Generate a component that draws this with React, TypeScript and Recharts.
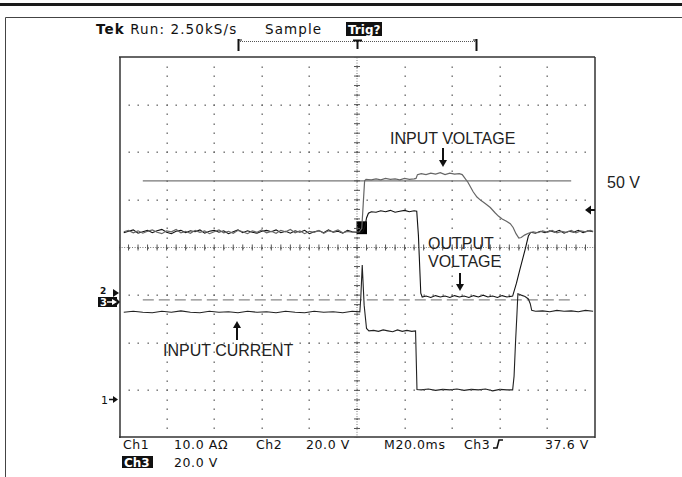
import React from 'react';
import {
  ComposedChart,
  Line,
  XAxis,
  YAxis,
  CartesianGrid,
  ReferenceLine,
  ReferenceArea,
  Scatter,
} from 'recharts';

// Horizontal axis: time in screen divisions (0-10, 20 ms/div)
// Vertical axis: screen divisions (0-8, bottom = 0)
const majorX = [0, 1, 2, 3, 4, 5, 6, 7, 8, 9, 10];
const majorY = [0, 1, 2, 3, 4, 5, 6, 7, 8];
const minorX = Array.from({ length: 51 }, (_, i) => +(i * 0.2).toFixed(1));
const minorY = Array.from({ length: 41 }, (_, i) => +(i * 0.2).toFixed(1));

// Reference lines
const ref50V: [number, number][] = [[0.5, 5.4], [9.5, 5.4]];
const refGround: [number, number][] = [[0.5, 2.9], [9.5, 2.9]];

// Ch3: INPUT VOLTAGE
const inputVoltage: [number, number][] = [
  [0.1, 4.33], [0.2, 4.36], [0.3, 4.31], [0.4, 4.35], [0.5, 4.3], [0.6, 4.34], [0.7, 4.37], [0.8, 4.32], [0.9, 4.29], [1.0, 4.35],
  [1.1, 4.33], [1.2, 4.38], [1.3, 4.31], [1.4, 4.34], [1.5, 4.3], [1.6, 4.36], [1.7, 4.32], [1.8, 4.35], [1.9, 4.29], [2.0, 4.33],
  [2.1, 4.37], [2.2, 4.31], [2.3, 4.34], [2.4, 4.3], [2.5, 4.36], [2.6, 4.33], [2.7, 4.29], [2.8, 4.35], [2.9, 4.32], [3.0, 4.37],
  [3.1, 4.31], [3.2, 4.34], [3.3, 4.3], [3.4, 4.36], [3.5, 4.33], [3.6, 4.38], [3.7, 4.31], [3.8, 4.35], [3.9, 4.29], [4.0, 4.34],
  [4.1, 4.32], [4.2, 4.36], [4.3, 4.3], [4.4, 4.35], [4.5, 4.33], [4.6, 4.37], [4.7, 4.31], [4.8, 4.34], [4.9, 4.32], [5.05, 4.33],
  [5.1, 4.4], [5.13, 4.9], [5.16, 5.4], [5.19, 5.43], [5.3, 5.42], [5.4, 5.44], [5.5, 5.42], [5.6, 5.45], [5.7, 5.43], [5.8, 5.44],
  [5.9, 5.42], [6.0, 5.45], [6.1, 5.43], [6.2, 5.44], [6.24, 5.45], [6.27, 5.53], [6.35, 5.55], [6.45, 5.53], [6.55, 5.56], [6.65, 5.54],
  [6.75, 5.57], [6.85, 5.53], [6.95, 5.56], [7.05, 5.54], [7.15, 5.55], [7.21, 5.53], [7.33, 5.37], [7.44, 5.17], [7.52, 5.06], [7.6, 4.99],
  [7.7, 4.92], [7.8, 4.84], [7.9, 4.73], [7.97, 4.66], [8.05, 4.6], [8.14, 4.55], [8.22, 4.5], [8.28, 4.42], [8.34, 4.29], [8.4, 4.2],
  [8.45, 4.21], [8.52, 4.26], [8.6, 4.3], [8.7, 4.33], [8.8, 4.31], [8.9, 4.35], [9.0, 4.32], [9.1, 4.36], [9.2, 4.31], [9.3, 4.34],
  [9.4, 4.32], [9.5, 4.36], [9.6, 4.31], [9.7, 4.35], [9.8, 4.33], [9.9, 4.36], [9.96, 4.34],
];

// Ch2: OUTPUT VOLTAGE
const outputVoltage: [number, number][] = [
  [0.1, 4.31], [0.2, 4.34], [0.3, 4.37], [0.4, 4.3], [0.5, 4.33], [0.6, 4.36], [0.7, 4.31], [0.8, 4.35], [0.9, 4.38], [1.0, 4.32],
  [1.1, 4.29], [1.2, 4.34], [1.3, 4.36], [1.4, 4.31], [1.5, 4.35], [1.6, 4.33], [1.7, 4.37], [1.8, 4.3], [1.9, 4.34], [2.0, 4.36],
  [2.1, 4.32], [2.2, 4.35], [2.3, 4.29], [2.4, 4.33], [2.5, 4.37], [2.6, 4.31], [2.7, 4.35], [2.8, 4.32], [2.9, 4.3], [3.0, 4.34],
  [3.1, 4.36], [3.2, 4.33], [3.3, 4.37], [3.4, 4.31], [3.5, 4.34], [3.6, 4.3], [3.7, 4.35], [3.8, 4.32], [3.9, 4.36], [4.0, 4.29],
  [4.1, 4.33], [4.2, 4.35], [4.3, 4.31], [4.4, 4.37], [4.5, 4.32], [4.6, 4.34], [4.7, 4.3], [4.8, 4.36], [4.9, 4.33], [5.05, 4.31],
  [5.12, 4.33], [5.17, 4.45], [5.2, 4.62], [5.24, 4.72], [5.3, 4.75], [5.4, 4.74], [5.5, 4.77], [5.6, 4.75], [5.7, 4.78], [5.8, 4.74],
  [5.9, 4.76], [6.0, 4.78], [6.1, 4.75], [6.2, 4.77], [6.255, 4.76], [6.29, 4.26], [6.34, 3.04], [6.37, 2.96], [6.45, 2.98], [6.55, 2.95],
  [6.65, 2.99], [6.75, 2.96], [6.85, 2.98], [6.95, 2.95], [7.05, 2.99], [7.15, 2.96], [7.25, 2.98], [7.35, 2.95], [7.45, 2.99], [7.55, 2.96],
  [7.65, 3.0], [7.75, 2.96], [7.85, 2.98], [7.95, 2.95], [8.05, 2.99], [8.15, 2.96], [8.27, 2.98], [8.35, 3.25], [8.42, 3.53], [8.53, 3.95],
  [8.6, 4.24], [8.65, 4.32], [8.75, 4.3], [8.85, 4.34], [8.95, 4.31], [9.05, 4.35], [9.15, 4.32], [9.25, 4.36], [9.35, 4.3], [9.45, 4.34],
  [9.55, 4.32], [9.65, 4.36], [9.75, 4.31], [9.85, 4.35], [9.96, 4.33],
];

// Ch1: INPUT CURRENT
const inputCurrent: [number, number][] = [
  [0.1, 2.64], [0.3, 2.66], [0.5, 2.64], [0.7, 2.63], [0.9, 2.66], [1.1, 2.64], [1.3, 2.67], [1.5, 2.64], [1.7, 2.63], [1.9, 2.66],
  [2.1, 2.64], [2.3, 2.65], [2.5, 2.63], [2.7, 2.66], [2.9, 2.64], [3.1, 2.65], [3.3, 2.63], [3.5, 2.66], [3.7, 2.64], [3.9, 2.63],
  [4.1, 2.66], [4.3, 2.64], [4.5, 2.65], [4.7, 2.63], [4.9, 2.66], [5.06, 2.65], [5.08, 2.95], [5.11, 3.63], [5.15, 2.79], [5.2, 2.3],
  [5.25, 2.25], [5.35, 2.26], [5.45, 2.24], [5.55, 2.27], [5.65, 2.25], [5.75, 2.23], [5.85, 2.27], [5.95, 2.24], [6.05, 2.26], [6.15, 2.24],
  [6.23, 2.25], [6.26, 1.02], [6.35, 1.01], [6.5, 1.03], [6.65, 1.0], [6.8, 1.02], [6.95, 1.01], [7.1, 1.03], [7.25, 1.0], [7.4, 1.02],
  [7.55, 1.01], [7.7, 1.03], [7.85, 0.99], [8.0, 1.02], [8.15, 1.01], [8.27, 1.01], [8.3, 1.3], [8.33, 2.0], [8.36, 2.6], [8.38, 3.03],
  [8.45, 3.0], [8.53, 2.97], [8.6, 2.92], [8.64, 2.82], [8.67, 2.68], [8.75, 2.66], [8.9, 2.67], [9.05, 2.65], [9.2, 2.68], [9.35, 2.66],
  [9.5, 2.67], [9.65, 2.65], [9.8, 2.68], [9.96, 2.66],
];

const toPts = (arr: [number, number][]) => arr.map(([t, v]) => ({ t, v }));

const centerVTicks = minorY.map((v) => ({ t: 5, v }));
const centerHTicks = minorX.map((t) => ({ t, v: 4 }));
const gridDots = majorX
  .filter((t) => t > 0 && t < 10)
  .flatMap((t) => minorY.map((v) => ({ t, v })))
  .concat(majorY.filter((v) => v > 0 && v < 8).flatMap((v) => minorX.map((t) => ({ t, v }))));

const W = 682;
const H = 477;
const BORDER = '#333';

const scopeFont = '"DejaVu Sans", sans-serif';
const noteFont = '"Liberation Sans", Arial, sans-serif';

function ArrowV({ x, from, to }: { x: number; from: number; to: number }) {
  const dir = to > from ? 1 : -1;
  const headLen = 7;
  return (
    <g>
      <line x1={x} y1={from} x2={x} y2={to - dir * headLen} stroke="#111" strokeWidth={2} />
      <polygon points={`${x - 4},${to - dir * headLen} ${x + 4},${to - dir * headLen} ${x},${to}`} fill="#111" />
    </g>
  );
}

function Overlay() {
  return (
    <svg
      width={W}
      height={H}
      style={{ position: 'absolute', left: 0, top: 0, pointerEvents: 'none' }}
    >
      {/* page frame */}
      <rect x={0} y={3} width={W} height={3} fill="#1a1a1a" />
      <line x1={5.5} y1={17.5} x2={W} y2={17.5} stroke="#444" />
      <line x1={5.5} y1={17.5} x2={5.5} y2={H} stroke="#444" />

      {/* header */}
      <text x={96} y={34} fontFamily={scopeFont} fontSize={13.5} letterSpacing={1.1} fill="#111">
        <tspan fontWeight="bold">Tek</tspan> Run: 2.50kS/s
      </text>
      <text x={265} y={34} fontFamily={scopeFont} fontSize={13.5} letterSpacing={1.1} fill="#111">
        Sample
      </text>
      <rect x={346} y={22} width={36} height={14} fill="#111" />
      <text x={348} y={33.5} fontFamily={scopeFont} fontSize={12} fontWeight="bold" fill="#fff">
        Trig?
      </text>

      {/* record bracket */}
      <line x1={238.5} y1={39} x2={238.5} y2={51} stroke="#111" strokeWidth={2} />
      <line x1={238} y1={40} x2={242} y2={40} stroke="#111" />
      <line x1={476.5} y1={39} x2={476.5} y2={51} stroke="#111" strokeWidth={2} />
      <line x1={473} y1={40} x2={477} y2={40} stroke="#111" />
      <line x1={240} y1={41.5} x2={476} y2={41.5} stroke="#555" strokeDasharray="1 1" />
      <line x1={353} y1={40.5} x2={362} y2={40.5} stroke="#111" strokeWidth={2} />
      <line x1={357.5} y1={40} x2={357.5} y2={49} stroke="#111" strokeWidth={2} />

      {/* channel ground markers */}
      <text x={100} y={294} fontFamily={scopeFont} fontSize={9} fontWeight="bold" fill="#111">2</text>
      <polygon points="113,289 119,293 113,297" fill="#111" />
      <rect x={98} y={297} width={19} height={10} fill="#111" />
      <text x={100} y={306} fontFamily={scopeFont} fontSize={10} fontWeight="bold" fill="#fff">3</text>
      <line x1={107} y1={302} x2={113} y2={302} stroke="#fff" strokeWidth={1.5} />
      <polygon points="112,299 117,302 112,305" fill="#fff" />
      <polygon points="117,299 120,302 117,305" fill="#111" />

      <text x={101} y={403.5} fontFamily={scopeFont} fontSize={11} fill="#111">1</text>
      <line x1={109} y1={399.5} x2={114} y2={399.5} stroke="#111" strokeWidth={1.5} />
      <polygon points="113,396 118,399.5 113,403" fill="#111" />

      {/* trigger level marker */}
      <polygon points="585,210 591,205.5 591,214.5" fill="#111" />
      <line x1={590} y1={210} x2={595} y2={210} stroke="#111" strokeWidth={2} />

      {/* annotations */}
      <text x={390} y={144} fontFamily={noteFont} fontSize={16} fill="#222">INPUT VOLTAGE</text>
      <ArrowV x={443} from={148} to={167} />
      <text x={428} y={248.5} fontFamily={noteFont} fontSize={16} fill="#222">OUTPUT</text>
      <text x={428} y={266.5} fontFamily={noteFont} fontSize={16} fill="#222">VOLTAGE</text>
      <ArrowV x={460} from={273} to={291} />
      <text x={163} y={355.5} fontFamily={noteFont} fontSize={16} fill="#222">INPUT CURRENT</text>
      <ArrowV x={237} from={340} to={321} />
      <text x={607} y={187.5} fontFamily={noteFont} fontSize={16} fill="#222">50 V</text>

      {/* readouts */}
      <g fontFamily={scopeFont} fontSize={12.5} letterSpacing={0.6} fill="#111">
        <text x={123} y={449}>Ch1</text>
        <text x={174} y={449}>10.0 AΩ</text>
        <text x={256} y={449}>Ch2</text>
        <text x={306} y={449}>20.0 V</text>
        <text x={384} y={449}>M20.0ms</text>
        <text x={464} y={449}>Ch3</text>
        <text x={545} y={449}>37.6 V</text>
        <text x={174} y={467}>20.0 V</text>
      </g>
      <path d="M493,448 L497,448 L499,440 L503,440" stroke="#111" strokeWidth={1.6} fill="none" />
      <rect x={122} y={456} width={31} height={12} fill="#111" />
      <text x={124} y={466.5} fontFamily={scopeFont} fontSize={12} fontWeight="bold" fill="#fff">Ch3</text>
    </svg>
  );
}

const dotTickH = (p: any) => (
  <line x1={p.cx - 3} x2={p.cx + 3} y1={p.cy} y2={p.cy} stroke="#555" strokeWidth={1} />
);
const dotTickV = (p: any) => (
  <line x1={p.cx} x2={p.cx} y1={p.cy - 3} y2={p.cy + 3} stroke="#555" strokeWidth={1} />
);
const gridDot = (p: any) => (
  <rect x={Math.round(p.cx) - 0.5} y={Math.round(p.cy) - 0.5} width={1.4} height={1.4} fill="#666" />
);

export default function App() {
  return (
    <div style={{ position: 'absolute', left: 0, top: 0, width: W, height: H, background: '#fff' }}>
      <ComposedChart
        width={W}
        height={H}
        margin={{ top: 57, right: 87, bottom: 39, left: 119 }}
      >
        <XAxis
          xAxisId={0}
          dataKey="t"
          type="number"
          domain={[0, 10]}
          ticks={majorX}
          allowDataOverflow
          mirror
          axisLine={false}
          tickLine={false}
          tick={false}
          height={1}
        />
        <YAxis
          yAxisId={0}
          dataKey="v"
          type="number"
          domain={[0, 8]}
          ticks={majorY}
          allowDataOverflow
          mirror
          axisLine={false}
          tickLine={false}
          tick={false}
          width={1}
        />
        <XAxis xAxisId="bottom" orientation="bottom" type="number" domain={[0, 10]} ticks={minorX} allowDataOverflow mirror
          axisLine={{ stroke: BORDER, strokeWidth: 1.5 }} tickLine={{ stroke: '#555' }} tickSize={3} tick={false} height={1} />
        <XAxis xAxisId="top" orientation="top" type="number" domain={[0, 10]} ticks={minorX} allowDataOverflow mirror
          axisLine={{ stroke: BORDER, strokeWidth: 1.5 }} tickLine={{ stroke: '#555' }} tickSize={3} tick={false} height={1} />
        <YAxis yAxisId="left" orientation="left" type="number" domain={[0, 8]} ticks={minorY} allowDataOverflow mirror
          axisLine={{ stroke: BORDER, strokeWidth: 1.5 }} tickLine={{ stroke: '#555' }} tickSize={3} tick={false} width={1} />
        <YAxis yAxisId="right" orientation="right" type="number" domain={[0, 8]} ticks={minorY} allowDataOverflow mirror
          axisLine={{ stroke: BORDER, strokeWidth: 1.5 }} tickLine={{ stroke: '#555' }} tickSize={3} tick={false} width={1} />

        <Scatter data={gridDots} dataKey="v" shape={gridDot} isAnimationActive={false} />
        <ReferenceLine x={5} stroke="#777" strokeDasharray="1 1.6" />
        <ReferenceLine y={4} stroke="#777" strokeDasharray="1 1.6" />
        <Scatter data={centerVTicks} dataKey="v" shape={dotTickH} isAnimationActive={false} />
        <Scatter data={centerHTicks} dataKey="v" shape={dotTickV} isAnimationActive={false} />

        <Line data={toPts(ref50V)} dataKey="v" stroke="#777" strokeWidth={1.3} dot={false} isAnimationActive={false} type="linear" />
        <Line data={toPts(refGround)} dataKey="v" stroke="#888" strokeWidth={1.3} strokeDasharray="11 5" dot={false} isAnimationActive={false} type="linear" />

        <Line data={toPts(inputCurrent)} dataKey="v" stroke="#222" strokeWidth={1.1} dot={false} isAnimationActive={false} type="linear" />
        <Line data={toPts(outputVoltage)} dataKey="v" stroke="#111" strokeWidth={1.1} dot={false} isAnimationActive={false} type="linear" />
        <Line data={toPts(inputVoltage)} dataKey="v" stroke="#666" strokeWidth={1.2} dot={false} isAnimationActive={false} type="linear" />

        <ReferenceArea x1={4.99} x2={5.21} y1={4.28} y2={4.55} fill="#000" fillOpacity={1} stroke="none" />
      </ComposedChart>
      <Overlay />
    </div>
  );
}
